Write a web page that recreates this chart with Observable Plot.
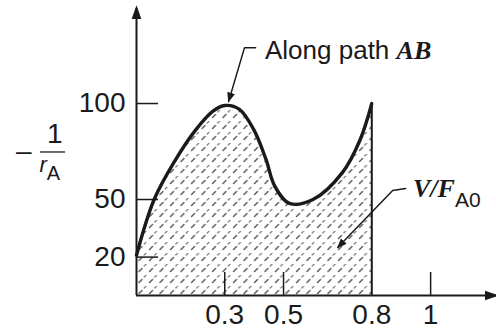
<!DOCTYPE html>
<html>
<head>
<meta charset="utf-8">
<script src="https://cdn.jsdelivr.net/npm/d3@7"></script>
<script src="https://cdn.jsdelivr.net/npm/@observablehq/plot@0.6"></script>
<style>
  html, body { margin: 0; padding: 0; background: #fff; }
  #chart { width: 496px; height: 331px; }
</style>
</head>
<body>
<div id="chart"></div>
<script>
// Curve -1/rA versus XA along path AB
const xa = [0, 0.06, 0.13, 0.2, 0.26, 0.3, 0.35, 0.4, 0.44, 0.47, 0.52, 0.6, 0.7, 0.76, 0.8];
const invRate = [21, 50, 70, 86, 96, 99, 97, 86, 71, 57, 48, 50, 64, 81, 100];
const yTicks = [20, 50, 100];
const xTicks = [0.3, 0.5, 0.8, 1];
const xTickMarks = [0.3, 0.5, 1];
const xEnd = 0.8;
const yEnd = 100;

// annotation leaders (data coordinates)
const leaderAB = [{x: 0.405, y: 129}, {x: 0.367, y: 129}, {x: 0.313, y: 101}];
const leaderV = [{x: 0.915, y: 55.7}, {x: 0.871, y: 54.7}, {x: 0.684, y: 25}];

const curveData = xa.map((x, i) => ({x, y: invRate[i]}));

const font = "'Liberation Sans', Arial, sans-serif";
const serif = "'Liberation Serif', 'Times New Roman', serif";
const ink = "#1a1a1a";

const plot = Plot.plot({
  width: 496,
  height: 331,
  marginLeft: 136,
  marginRight: 0,
  marginTop: 8,
  marginBottom: 36,
  x: {domain: [0, 1.224], axis: null},
  y: {domain: [0, 149.5], axis: null},
  style: {fontFamily: font, color: ink, background: "#fff", overflow: "visible"},
  marks: [
    Plot.areaY(curveData, {x: "x", y: "y", curve: "catmull-rom", fill: "url(#hatch)"}),
    Plot.line(curveData, {x: "x", y: "y", curve: "catmull-rom", stroke: ink, strokeWidth: 3.4}),
    Plot.ruleX([xEnd], {y1: 0, y2: yEnd, stroke: ink, strokeWidth: 2}),
    // axes with arrows
    Plot.ruleY([0], {x1: 0, x2: 1.224, stroke: ink, strokeWidth: 2, className: "axis-arrow"}),
    Plot.ruleX([0], {y1: 0, y2: 149.5, stroke: ink, strokeWidth: 2, className: "axis-arrow"}),
    // ticks
    Plot.ruleY(yTicks, {x1: 0, x2: 0.075, stroke: ink, strokeWidth: 1.5}),
    Plot.ruleX(xTickMarks, {y1: 0, y2: 12, stroke: ink, strokeWidth: 1.5}),
    // tick labels
    Plot.axisY({ticks: yTicks, tickSize: 0, tickPadding: 11, fontSize: 28, anchor: "left", label: null}),
    Plot.axisX({ticks: xTicks, tickSize: 0, tickPadding: 9, fontSize: 28, anchor: "bottom", label: null, tickFormat: d => String(d)}),
    // leaders
    Plot.line(leaderAB, {x: "x", y: "y", stroke: ink, strokeWidth: 1.5, className: "leader"}),
    Plot.line(leaderV, {x: "x", y: "y", stroke: ink, strokeWidth: 1.5, className: "leader"}),
  ]
});

const svg = d3.select(plot);
const defs = svg.insert("defs", ":first-child");
const pat = defs.append("pattern")
  .attr("id", "hatch").attr("patternUnits", "userSpaceOnUse")
  .attr("width", 10.5).attr("height", 11);
pat.append("path").attr("d", "M2.5,7.5 L5.5,4.5").attr("stroke", "#555").attr("stroke-width", 1.4).attr("stroke-linecap", "round");
pat.append("path").attr("d", "M7.75,2 L10.25,-0.5").attr("stroke", "#777").attr("stroke-width", 1.2).attr("stroke-linecap", "round");
defs.append("marker").attr("id", "ah").attr("viewBox", "0 0 10 10").attr("refX", 9).attr("refY", 5)
  .attr("markerWidth", 10).attr("markerHeight", 10).attr("markerUnits", "userSpaceOnUse").attr("orient", "auto")
  .append("path").attr("d", "M0,1 L10,5 L0,9 Z").attr("fill", ink);
defs.append("marker").attr("id", "ah2").attr("viewBox", "0 0 10 10").attr("refX", 8).attr("refY", 5)
  .attr("markerWidth", 14).attr("markerHeight", 14).attr("markerUnits", "userSpaceOnUse").attr("orient", "auto")
  .append("path").attr("d", "M0,1.5 L10,5 L0,8.5 Z").attr("fill", ink);
svg.selectAll(".leader path").attr("marker-end", "url(#ah)");
svg.selectAll(".axis-arrow line").attr("marker-end", "url(#ah2)");

// text annotations placed in data space via the plot's own scales
const xScale = plot.scale("x"), yScale = plot.scale("y");
const sx = v => xScale.apply(v);
const sy = v => yScale.apply(v);

function addText(parent, x, y, parts, size) {
  const t = parent.append("text").attr("x", sx(x)).attr("y", sy(y)).attr("fill", ink)
    .attr("text-anchor", "start")
    .attr("font-size", size).attr("font-family", font);
  parts.forEach(p => {
    const ts = t.append("tspan").text(p.t);
    if (p.serif) ts.attr("font-family", serif).attr("font-style", "italic").attr("font-weight", p.bold ? "bold" : "normal");
    if (p.italic) ts.attr("font-style", "italic");
    if (p.sub) ts.attr("font-size", p.subSize).attr("dy", p.sub);
  });
  return t;
}
const g = svg.append("g").attr("text-anchor", "start");
addText(g, 0.4386, 122.9, [{t: "Along path "}, {t: "AB", serif: true, bold: true}], 26);
addText(g, 0.9418, 51.0, [{t: "V/F", serif: true, bold: true}, {t: "A0", sub: "10", subSize: 21}], 26);
// y label: − 1 / rA
addText(g, -0.408, 70.5, [{t: "\u2013"}], 28);
addText(g, -0.303, 79.2, [{t: "1"}], 28);
g.append("line").attr("x1", sx(-0.3264)).attr("x2", sx(-0.2414)).attr("y1", sy(74.5)).attr("y2", sy(74.5))
  .attr("stroke", ink).attr("stroke-width", 1.3);
addText(g, -0.328, 64.1, [{t: "r", italic: true}, {t: "A", sub: "8", subSize: 20}], 22);

document.getElementById("chart").appendChild(plot);
</script>
</body>
</html>
